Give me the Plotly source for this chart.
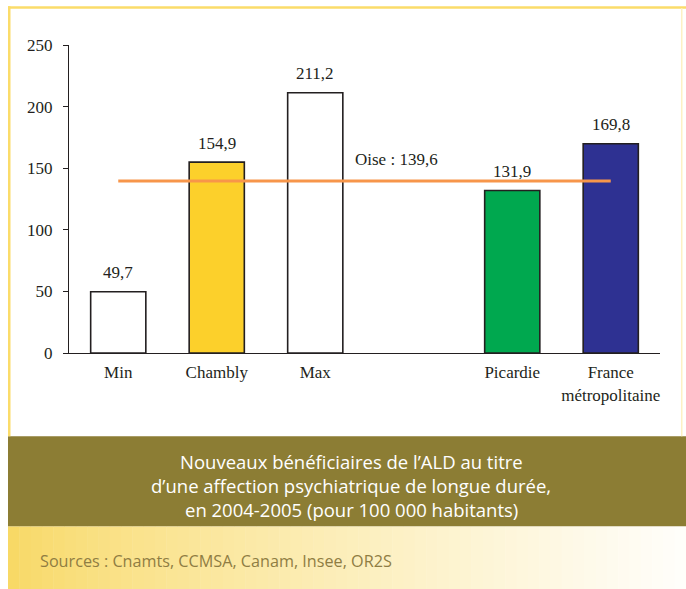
import plotly.graph_objects as go

categories = ["Min", "Chambly", "Max", " ", "Picardie", "France<br>métropolitaine"]
values = [49.7, 154.9, 211.2, None, 131.9, 169.8]
value_labels = ["49,7", "154,9", "211,2", "", "131,9", "169,8"]
bar_colors = ["#ffffff", "#fcd02b", "#ffffff", "#ffffff", "#00a84f", "#2e3192"]
oise_value = 139.6
oise_label = "Oise : 139,6"
y_ticks = [0, 50, 100, 150, 200, 250]
title_lines = ["Nouveaux bénéficiaires de l’ALD au titre",
               "d’une affection psychiatrique de longue durée,",
               "en 2004-2005 (pour 100 000 habitants)"]
source_text = "Sources : Cnamts, CCMSA, Canam, Insee, OR2S"

W, H = 686, 589
L, R, T, B = 69, 26, 44.7, 236.3
PW, PH = W - L - R, H - T - B

serif = "Liberation Serif, Times New Roman, serif"

fig = go.Figure()
fig.add_trace(go.Bar(
    x=categories, y=values,
    marker=dict(color=bar_colors, line=dict(color="#231f20", width=1.6)),
    width=0.56, hoverinfo="skip",
))
fig.add_trace(go.Scatter(
    x=categories, y=[oise_value] * len(categories),
    mode="lines", line=dict(color="#f7964a", width=3),
    hoverinfo="skip",
))
for cat, val, lab in zip(categories, values, value_labels):
    if val is None:
        continue
    fig.add_annotation(x=cat, y=val, xref="x", yref="y", text=lab, showarrow=False,
                       yanchor="middle", yshift=19,
                       font=dict(family=serif, size=17, color="#231f20"))
fig.add_annotation(x=categories[3], y=oise_value, xref="x", yref="y",
                   text=oise_label, showarrow=False, xshift=-17, yshift=22,
                   font=dict(family=serif, size=17, color="#231f20"))

def px(x):
    return (x - L) / PW

def py(y):
    return (H - B - y) / PH

shapes = []
# gradient band
n = 60
x0p, x1p = 8, W
for i in range(n):
    t = i / (n - 1)
    c0 = (248, 217, 102)
    c1 = (255, 254, 250)
    c = tuple(int(round(c0[k] + (c1[k] - c0[k]) * (t ** 0.8))) for k in range(3))
    xa = x0p + (x1p - x0p) * i / n
    xb = x0p + (x1p - x0p) * (i + 1) / n + 0.5
    shapes.append(dict(type="rect", xref="paper", yref="paper",
                       x0=px(xa), x1=px(xb), y0=py(589), y1=py(526),
                       fillcolor="rgb(%d,%d,%d)" % c, line=dict(width=0), layer="below"))
# olive band
shapes.append(dict(type="rect", xref="paper", yref="paper",
                   x0=px(8), x1=px(W), y0=py(526), y1=py(436),
                   fillcolor="#8c7d34", line=dict(width=0), layer="below"))
# borders
shapes.append(dict(type="rect", xref="paper", yref="paper",
                   x0=px(8), x1=px(10.5), y0=py(436), y1=py(6),
                   fillcolor="#fbdc6a", line=dict(width=0), layer="below"))
shapes.append(dict(type="rect", xref="paper", yref="paper",
                   x0=px(8), x1=px(W), y0=py(8.5), y1=py(6),
                   fillcolor="#fbdc6a", line=dict(width=0), layer="below"))
shapes.append(dict(type="rect", xref="paper", yref="paper",
                   x0=px(681), x1=px(682.5), y0=py(436), y1=py(8),
                   fillcolor="#fdf1c4", line=dict(width=0), layer="below"))
fig.update_layout(shapes=shapes)

for i, line in enumerate(title_lines):
    fig.add_annotation(x=px(351), y=py(461 + i * 24), xref="paper", yref="paper",
                       text=line, showarrow=False, xanchor="center", yanchor="middle",
                       font=dict(family="Open Sans, sans-serif", size=18.5, color="#ffffff"))
fig.add_annotation(x=px(38), y=py(561), xref="paper", yref="paper",
                   text=source_text, showarrow=False, xanchor="left", yanchor="middle",
                   font=dict(family="Open Sans, sans-serif", size=16.2, color="#8f7d43"))

fig.update_layout(
    width=W, height=H,
    margin=dict(l=L, r=R, t=T, b=B, pad=0),
    paper_bgcolor="#ffffff", plot_bgcolor="#ffffff",
    showlegend=False,
    xaxis=dict(type="category", showgrid=False, showline=True, linecolor="#231f20",
               linewidth=1, ticks="", ticklabelstandoff=4,
               tickfont=dict(family=serif, size=17, color="#231f20"),
               range=[-0.5, 5.5], fixedrange=True),
    yaxis=dict(range=[0, 250], tickvals=y_ticks, showgrid=False, showline=True,
               linecolor="#231f20", linewidth=1, ticks="outside", ticklen=5,
               tickcolor="#231f20", zeroline=False, ticklabelstandoff=7,
               tickfont=dict(family=serif, size=17, color="#231f20"), fixedrange=True),
)

fig.write_html("out.html", config={"displayModeBar": False},
               post_script="document.body.style.margin='0';")
